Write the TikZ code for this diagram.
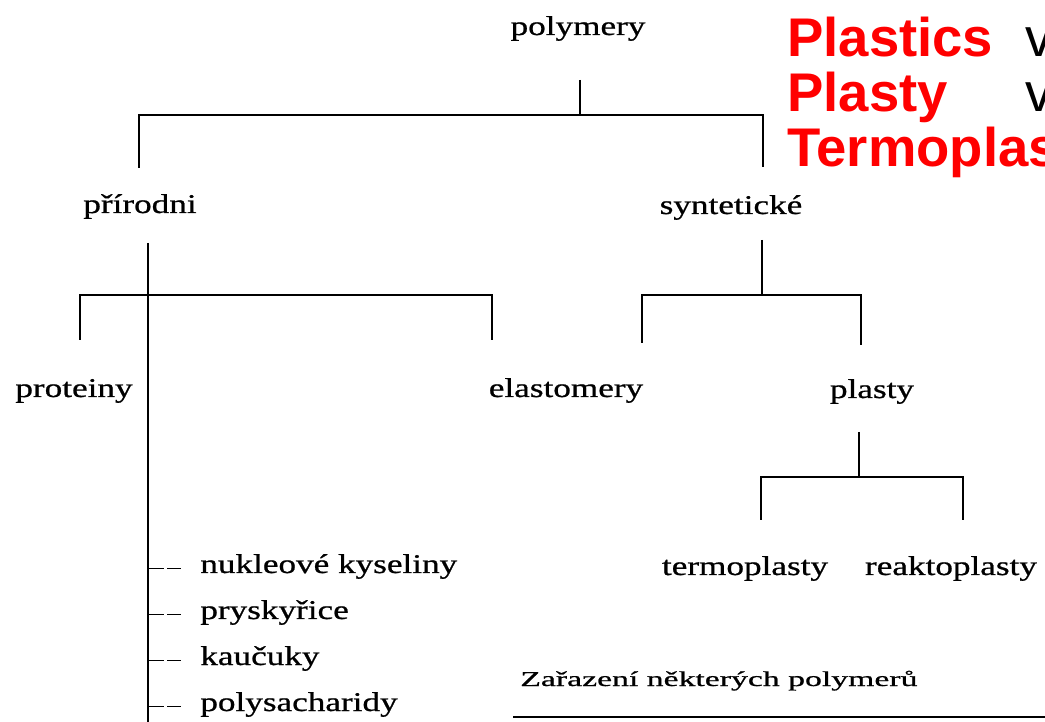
\documentclass[tikz,border=0pt]{standalone}
\usepackage{fontspec}
\setmainfont{Liberation Serif}
\newfontfamily\scanfont[FakeStretch=1.3,FakeBold=0.8]{Liberation Serif}
\newfontfamily\capfont[FakeStretch=1.6,FakeBold=0.8]{Liberation Serif}
\newfontfamily\slidefont{Liberation Sans}
\begin{document}
\begin{tikzpicture}[x=0.02cm,y=-0.02cm]
	\tikzstyle{term}=[inner sep=0pt,anchor=base,font=\scanfont\fontsize{15.4}{18}\selectfont]
	\tikzstyle{item}=[term,anchor=base west]
	\tikzstyle{link}=[draw,line width=1.2pt]
	\tikzstyle{tick}=[draw,line width=0.6pt,dash pattern=on 9pt off 2pt]
	\tikzstyle{slide}=[inner sep=0pt,anchor=base west,text=red,font=\slidefont\bfseries\fontsize{31}{36}\selectfont]
	\useasboundingbox (0,0) rectangle (1045,722);
	\clip (0,0) rectangle (1045,722);
	\begin{scope}
		% tree labels
		\node [term] (poly) at (578,35) {polymery};
		\node [term] (prir) at (140,213) {přírodni};
		\node [term] (synt) at (731,214) {syntetické};
		\node [term] (prot) at (74,397) {proteiny};
		\node [term] (elast) at (566,397) {elastomery};
		\node [term] (plast) at (872,398) {plasty};
		\node [term] (termo) at (745,575) {termoplasty};
		\node [term] (reakto) at (951,575) {reaktoplasty};
		\node [item] (nuk) at (200,573) {nukleové kyseliny};
		\node [item] (prys) at (200,619) {pryskyřice};
		\node [item] (kauc) at (200,665) {kaučuky};
		\node [item] (polys) at (200,711) {polysacharidy};
		\node [term,font=\capfont\fontsize{12}{14}\selectfont,anchor=base west] (capt) at (520,686) {Zařazení některých polymerů};
		% bracket points
		\coordinate (poly-top) at (580,80);
		\coordinate (poly-bar) at (580,115);
		\coordinate (prir-drop) at (139,168);
		\coordinate (synt-drop) at (763,167);
		\coordinate (prir-top) at (148,243);
		\coordinate (prir-end) at (148,730);
		\coordinate (prir-bar) at (148,295);
		\coordinate (prot-drop) at (80,340);
		\coordinate (elast-drop) at (492,340);
		\coordinate (synt-top) at (762,240);
		\coordinate (synt-bar) at (762,295);
		\coordinate (elast-drop2) at (642,343);
		\coordinate (plast-drop) at (861,345);
		\coordinate (plast-top) at (859,432);
		\coordinate (plast-bar) at (859,477);
		\coordinate (termo-drop) at (761,520);
		\coordinate (reakto-drop) at (963,520);
		\coordinate (rule-a) at (513,717);
		\coordinate (rule-b) at (1045,717);
		% connectors
		\path[link] (poly-top) -- (poly-bar);
		\path[link] (prir-drop) |- (poly-bar) -| (synt-drop);
		\path[draw,line width=1.6pt] (prir-top) -- (prir-end);
		\path[link] (prot-drop) |- (prir-bar) -| (elast-drop);
		\path[link] (synt-top) -- (synt-bar);
		\path[link] (elast-drop2) |- (synt-bar) -| (plast-drop);
		\path[link] (plast-top) -- (plast-bar);
		\path[link] (termo-drop) |- (plast-bar) -| (reakto-drop);
		\path[tick] (prir-top |- nuk.mid) -- ++(33,0);
		\path[tick] (prir-top |- prys.mid) -- ++(33,0);
		\path[tick] (prir-top |- kauc.mid) -- ++(33,0);
		\path[tick] (prir-top |- polys.mid) -- ++(33,0);
		\path[draw,line width=1.6pt] (rule-a) -- (rule-b);
	\end{scope}
	\begin{scope}
		% slide text, cut at the right edge
		\node [slide] (r1) at (787,57) {Plastics};
		\node [slide] (r2) at (787,112) {Plasty};
		\node [slide] (r3) at (787,167) {Termoplas};
		\node [slide,text=black,font=\slidefont\fontsize{31}{36}\selectfont] (v1) at (1025,57) {v};
		\node [slide,text=black,font=\slidefont\fontsize{31}{36}\selectfont] (v2) at (1025,112) {v};
	\end{scope}
\end{tikzpicture}
\end{document}
